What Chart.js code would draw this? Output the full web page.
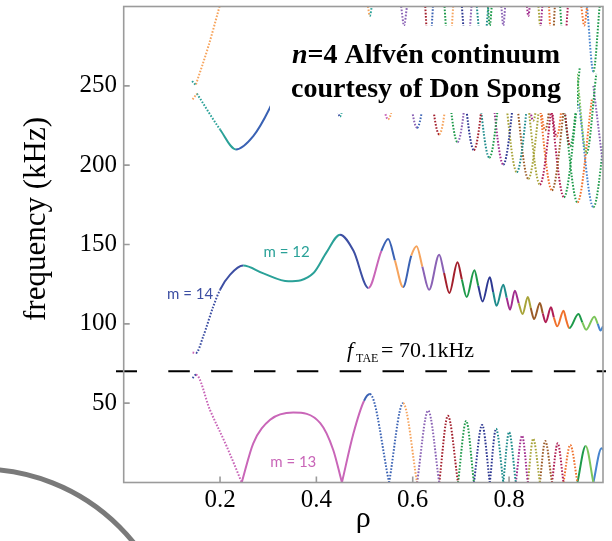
<!DOCTYPE html>
<html><head><meta charset="utf-8">
<script src="https://cdn.jsdelivr.net/npm/chart.js@4.4.1/dist/chart.umd.min.js"></script>
<style>html,body{margin:0;padding:0;background:#fff}</style>
</head><body>
<canvas id="c" width="612" height="541"></canvas>
<script>
// ---------------- axis ticks / reference values ----------------
const xTicks = [0.2, 0.4, 0.6, 0.8];
const yTicks = [50, 100, 150, 200, 250];
const fTAE = 70.1;
const yTitle = 'frequency (kHz)';
const titleLine1a = 'n', titleLine1b = '=4 Alfvén continuum', titleLine2 = 'courtesy of Don Spong';

// ---------------- branch above the TAE gap (m=14 / m=12 ...) ----------------
const gapTopPts = [
 [0.143,81.9],[0.150,81.6],[0.165,92.0],[0.186,111.0],[0.200,121.5],[0.221,131.0],
 [0.248,136.7],[0.290,131.8],[0.342,126.8],[0.394,132.0],[0.421,145.0],[0.449,156.2],
 [0.477,146.0],[0.508,122.6],[0.535,146.0],[0.549,153.5],[0.563,140.0],[0.580,123.2],
 [0.597,143.0],[0.608,148.9],[0.620,136.0],[0.634,121.5],[0.655,143.6],[0.665,132.0],
 [0.676,119.4],[0.693,138.8],[0.702,128.0],[0.712,116.9],[0.728,133.7],[0.736,124.0],
 [0.745,114.1],[0.760,129.3],[0.767,120.0],[0.774,111.4],[0.788,124.7],[0.795,116.5],
 [0.802,108.9],[0.812,120.9],[0.820,113.0],[0.828,106.2],[0.839,116.9],[0.845,110.0],
 [0.852,103.0],[0.864,113.1],[0.870,106.5],[0.876,101.0],[0.887,110.4],[0.893,104.0],
 [0.900,98.4],[0.913,108.3],[0.919,102.0],[0.925,97.3],[0.944,106.2],[0.952,101.0],
 [0.960,96.3],[0.977,104.5],[0.984,100.0],[0.990,95.8],[0.995,98.5]
];
const gapTopStyle = [
 'pink*','navy*','navy*','navy*','navy','navy',
 'teal','teal','teal','teal','teal','navy',
 'navy','pink','blue','blue','orange','blue',
 'orange','orange','purple','purple','purple','dred',
 'dred','dred','green','green','green','dblue',
 'dblue','dblue','cyan','cyan','cyan','magenta',
 'magenta','magenta','olive','olive','olive','brown',
 'brown','brown','crimson','crimson','crimson','dorange',
 'dorange','dorange','dorange','green','green','lgreen',
 'lgreen','lgreen','sky','sky','sky'
];

// ---------------- branch below the TAE gap (m=13 ...) : arches between zeros ----------------
const lowArches = [
 [[0.143,65.8],[0.150,67.9],[0.179,45.8],[0.214,22.6],[0.245,0]],
 [[0.245,0],[0.269,24.7],[0.304,39.5],[0.352,44.1],[0.408,37.4],[0.435,20.5],[0.453,0]],
 [[0.453,0],[0.477,31.0],[0.499,51.5],[0.511,55.7],[0.551,0]],
 [[0.551,0],[0.580,50.0],[0.609,0]],
 [[0.609,0],[0.632,45.3],[0.655,0]],
 [[0.655,0],[0.673,42.0],[0.694,0]],
 [[0.694,0],[0.711,38.8],[0.727,0]],
 [[0.727,0],[0.744,36.3],[0.760,0]],
 [[0.760,0],[0.773,33.8],[0.788,0]],
 [[0.788,0],[0.800,31.7],[0.814,0]],
 [[0.814,0],[0.827,29.4],[0.839,0]],
 [[0.839,0],[0.850,27.5],[0.864,0]],
 [[0.864,0],[0.875,26.2],[0.889,0]],
 [[0.889,0],[0.901,24.7],[0.913,0]],
 [[0.913,0],[0.927,23.7],[0.942,0]],
 [[0.942,0],[0.959,23.0],[0.975,0]],
 [[0.975,0],[0.992,21.6],[0.996,20.5]]
];
const lowStyle = [
 ['navy*','pink*','pink*','pink*'],
 ['pink','pink','pink','pink','pink','pink'],
 ['pink','pink','blue','blue*'],
 ['blue*','orange*'],['purple*','purple*'],['dred*','dred*'],['green*','green*'],
 ['dblue*','dblue*'],['dblue*','cyan*'],['cyan*','cyan*'],['magenta*','magenta*'],
 ['olive*','olive*'],['brown*','brown*'],['crimson*','crimson*'],['dorange*','dorange*'],
 ['green','lgreen'],['sky','sky']
];

// ---------------- upper continuum pieces ----------------
const upperLeftPieces = [
 [[0.143,241.5],[0.152,245.1]],
 [[0.142,253.0],[0.150,250.3]],
 [[0.150,250.9],[0.176,275.1],[0.199,300.0]],
 [[0.152,245.1],[0.200,222.5],[0.233,209.9],[0.269,218.3],[0.302,235.2],[0.330,255.0]]
];
const upperLeftStyle = [['orange*'],['teal*'],['orange*','orange*'],['teal*','teal','blue','blue','blue']];

const upperV1 = [
 [[0.429,280.0],[0.449,230.6],[0.469,280.0]],
 [[0.519,280.0],[0.549,228.9],[0.579,280.0]],
 [[0.579,280.0],[0.609,223.6],[0.639,280.0]],
 [[0.625,280.0],[0.655,219.4],[0.685,280.0]],
 [[0.663,279.5],[0.693,214.5],[0.723,279.5]],
 [[0.697,274.5],[0.727,209.5],[0.757,274.5]],
 [[0.729,269.7],[0.759,204.7],[0.789,269.7]],
 [[0.758,265.4],[0.788,200.4],[0.818,265.4]],
 [[0.786,260.6],[0.816,195.6],[0.846,260.6]],
 [[0.810,256.4],[0.840,191.4],[0.870,256.4]],
 [[0.834,252.8],[0.864,187.8],[0.894,252.8]],
 [[0.859,249.2],[0.889,184.2],[0.919,249.2]],
 [[0.884,244.8],[0.914,179.8],[0.944,244.8]],
 [[0.912,241.6],[0.942,176.6],[0.972,241.6]],
 [[0.945,238.5],[0.975,173.5],[1.005,238.5]]
];
const upperV1Style = [
 ['navy*','teal*'],['pink*','orange*'],['purple*','blue*'],['dred*','orange*'],['green*','purple*'],
 ['dblue*','dred*'],['cyan*','green*'],['magenta*','dblue*'],['olive*','cyan*'],['brown*','olive*'],
 ['olive*','crimson*'],['dorange*','brown*'],['crimson*','green*'],['green*','dorange*'],['sky*','green*']
];
const upperV2 = [
 [[0.830,278.0],[0.850,228.0],[0.870,278.0]],
 [[0.855,272.0],[0.875,222.0],[0.895,272.0]],
 [[0.879,268.0],[0.899,218.0],[0.919,268.0]],
 [[0.907,262.0],[0.927,212.0],[0.947,262.0]],
 [[0.941,257.5],[0.961,207.5],[0.981,257.5]],
 [[0.975,250.0],[0.995,200.0]]
];
const upperV2Style = [['magenta*','olive*'],['dorange*','brown*'],['crimson*','dorange*'],['dred*','green*'],['lgreen*','green*'],['purple*']];
const upperV3 = [
 [[0.507,300],[0.511,294],[0.515,300]],
 [[0.576,300],[0.582,288],[0.588,300]],
 [[0.626,300],[0.634,265],[0.642,300]],
 [[0.666,300],[0.675,265],[0.684,300]],
 [[0.702,300],[0.712,265],[0.722,300]],
 [[0.733,300],[0.745,265],[0.757,300]],
 [[0.756,300],[0.760,288],[0.764,300]],
 [[0.784,300],[0.788,288],[0.792,300]],
 [[0.837,300],[0.840,294],[0.843,300]],
 [[0.861,300],[0.865,287],[0.869,300]],
 [[0.883,300],[0.889,270],[0.895,300]],
 [[0.906,300],[0.914,270],[0.922,300]],
 [[0.950,300],[0.956,288],[0.962,300]],
 [[0.962,300],[0.975,259],[0.988,300]]
];
const upperV3Style = [
 ['orange*','teal*'],['purple*','purple*'],['dred*','blue*'],['green*','orange*'],['dblue*','purple*'],
 ['cyan*','cyan*'],['green*','green*'],['purple*','purple*'],['magenta*','magenta*'],['olive*','magenta*'],
 ['dorange*','brown*'],['green*','crimson*'],['dorange*','dorange*'],['sky*','green*']
];

// ---------------- labels ----------------
const mLabels = [
 {text:'m = 14', rho:0.138, f:118.4, color:'navy'},
 {text:'m = 12', rho:0.338, f:145.0, color:'teal'},
 {text:'m = 13', rho:0.352, f:13.1,  color:'pink'}
];
const taeLabelRho = 0.4636;

// ---------------- styles ----------------
const COL = {
 navy:'#3d4fa3', teal:'#2aa198', pink:'#c966b8', orange:'#f6a45d', blue:'#3a62b4',
 purple:'#8a62b5', dred:'#a31f2c', green:'#1e9a4a', dblue:'#2d3892', cyan:'#1f8c8c',
 magenta:'#a12c8e', olive:'#a8a43a', brown:'#9b5b27', crimson:'#b01f55', dorange:'#f0712c',
 lgreen:'#7cc55a', sky:'#4785cf'
};
const SERIF = "'Liberation Serif','Times New Roman',Times,serif";

function mkDataset(points, styles){
  const cols = styles.map(s => COL[s.replace('*','')]);
  const dots = styles.map(s => s.endsWith('*'));
  return {
    data: points.map(p => ({x:p[0], y:p[1]})),
    borderColor: cols[0], borderWidth: 2, fill:false, pointRadius:0,
    cubicInterpolationMode:'monotone',
    segment:{
      borderColor: c => cols[Math.min(c.p0DataIndex, cols.length-1)],
      borderDash: c => dots[Math.min(c.p0DataIndex, dots.length-1)] ? [1.6,1.6] : []
    }
  };
}

const datasets = [];
upperV3.forEach((v,i)=>datasets.push(mkDataset(v, upperV3Style[i])));
upperV2.forEach((v,i)=>datasets.push(mkDataset(v, upperV2Style[i])));
upperV1.forEach((v,i)=>datasets.push(mkDataset(v, upperV1Style[i])));
upperLeftPieces.forEach((v,i)=>datasets.push(mkDataset(v, upperLeftStyle[i])));
lowArches.forEach((v,i)=>datasets.push(mkDataset(v, lowStyle[i])));
datasets.push(mkDataset(gapTopPts, gapTopStyle));

const deco = {
  id:'deco',
  beforeDraw(chart){
    const ctx = chart.ctx;
    ctx.save();
    ctx.fillStyle = '#fff'; ctx.fillRect(0,0,chart.width,chart.height);
    ctx.beginPath(); ctx.arc(-20, 666, 197, 0, 2*Math.PI);
    ctx.strokeStyle = '#7a7a7a'; ctx.lineWidth = 5; ctx.stroke();
    // y axis title
    ctx.translate(37, 219); ctx.rotate(-Math.PI/2);
    ctx.fillStyle = '#000'; ctx.textAlign = 'center'; ctx.textBaseline = 'middle';
    ctx.font = '31px ' + SERIF; ctx.fillText(yTitle, 0, 0);
    ctx.restore();
  },
  afterDatasetsDraw(chart){
    const ctx = chart.ctx, xs = chart.scales.x, ys = chart.scales.y;
    ctx.save();
    // white panel behind title
    ctx.fillStyle = '#fff'; ctx.fillRect(270, 26, 307, 87);
    // title
    ctx.fillStyle = '#000'; ctx.textAlign = 'left'; ctx.textBaseline = 'alphabetic';
    ctx.font = 'italic bold 28px ' + SERIF; ctx.fillText(titleLine1a, 292, 63);
    const w = ctx.measureText(titleLine1a).width;
    ctx.font = 'bold 28px ' + SERIF; ctx.fillText(titleLine1b, 292 + w, 63);
    ctx.fillText(titleLine2, 291, 96.5);
    // f_TAE dashed line
    const yT = ys.getPixelForValue(fTAE);
    ctx.strokeStyle = '#000'; ctx.lineWidth = 2;
    ctx.beginPath(); ctx.moveTo(116, yT); ctx.lineTo(137, yT); ctx.stroke();
    ctx.setLineDash([21.5, 21.34]);
    ctx.beginPath(); ctx.moveTo(168.3, yT); ctx.lineTo(606, yT); ctx.stroke();
    ctx.setLineDash([]);
    // f_TAE label
    const ax = xs.getPixelForValue(taeLabelRho);
    ctx.fillStyle = '#000';
    ctx.font = 'italic 22px ' + SERIF; ctx.fillText('f', ax, yT - 14.5);
    ctx.font = '12px ' + SERIF; ctx.fillText('TAE', ax + 9, yT - 9);
    ctx.font = '22px ' + SERIF; ctx.fillText('= ' + fTAE + 'kHz', ax + 34, yT - 14.5);
    // m labels
    ctx.textAlign = 'center'; ctx.textBaseline = 'middle';
    ctx.font = '15px Lato, "Open Sans", sans-serif';
    mLabels.forEach(m => {
      ctx.fillStyle = COL[m.color];
      ctx.fillText(m.text, xs.getPixelForValue(m.rho), ys.getPixelForValue(m.f));
    });
    ctx.restore();
  },
  afterDraw(chart){
    const ctx = chart.ctx, xs = chart.scales.x, ys = chart.scales.y, ca = chart.chartArea;
    ctx.save();
    ctx.strokeStyle = '#9b9b9b'; ctx.lineWidth = 1.6;
    ctx.strokeRect(ca.left, ca.top, ca.right - ca.left, ca.bottom - ca.top);
    ctx.beginPath();
    yTicks.forEach(v => { const y = ys.getPixelForValue(v); ctx.moveTo(ca.left, y); ctx.lineTo(ca.left + 6, y); });
    xTicks.forEach(v => { const x = xs.getPixelForValue(v); ctx.moveTo(x, ca.bottom); ctx.lineTo(x, ca.bottom - 6); });
    ctx.stroke();
    ctx.restore();
  }
};

new Chart(document.getElementById('c').getContext('2d'), {
  type:'line',
  data:{datasets},
  options:{
    responsive:false, animation:false, devicePixelRatio:1,
    layout:{padding:{top:6.5, right:9, left:0, bottom:0}},
    plugins:{legend:{display:false}, tooltip:{enabled:false}},
    elements:{point:{radius:0}},
    scales:{
      x:{
        type:'linear', min:0, max:0.995,
        afterFit: s => { s.height = 58.5; s.paddingLeft = 0; s.paddingRight = 0; },
        afterBuildTicks: s => { s.ticks = xTicks.map(v => ({value:v})); },
        grid:{display:false, drawTicks:false}, border:{display:false},
        ticks:{autoSkip:false, maxRotation:0, padding:2.5, color:'#000',
               font:{family:SERIF, size:25}, callback: v => Number(v).toFixed(1)},
        title:{display:true, text:'ρ', color:'#000', font:{family:SERIF, size:30}, padding:{top:0, bottom:4}}
      },
      y:{
        type:'linear', min:0, max:300,
        afterFit: s => { s.width = 123.7; s.paddingTop = 0; s.paddingBottom = 0; },
        afterBuildTicks: s => { s.ticks = yTicks.map(v => ({value:v})); },
        grid:{display:false, drawTicks:false}, border:{display:false},
        ticks:{padding:6.7, color:'#000', font:{family:SERIF, size:25}, callback: v => String(v)},
        title:{display:false}
      }
    }
  },
  plugins:[deco]
});
</script>
</body></html>
